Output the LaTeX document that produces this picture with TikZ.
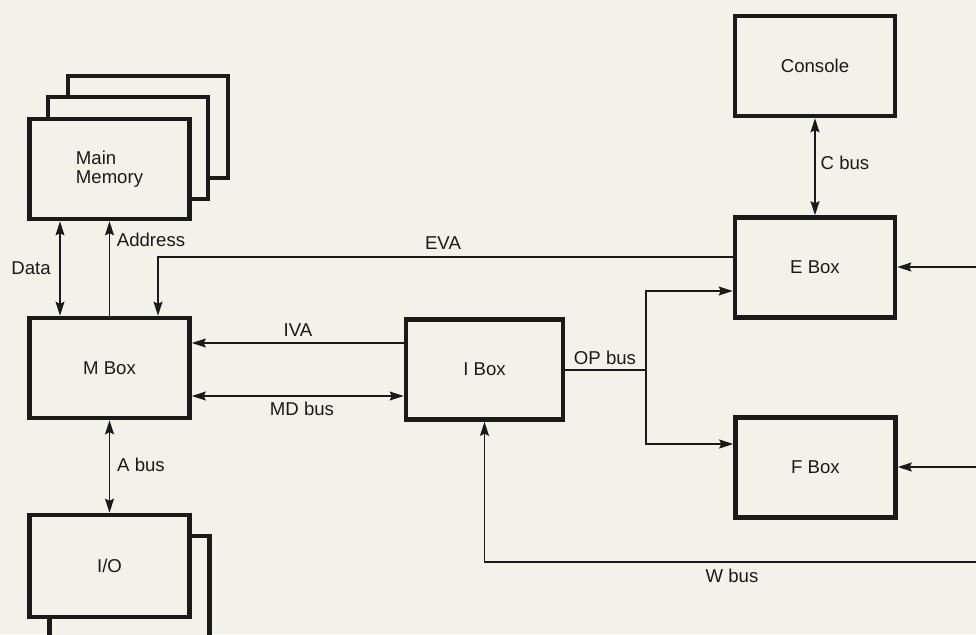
\documentclass[tikz,border=0pt]{standalone}
\usepackage{fontspec}
\setmainfont{Liberation Sans}
\usetikzlibrary{arrows.meta, positioning, calc}
\definecolor{paperBg}{HTML}{F2F2E8}
\definecolor{inkDark}{HTML}{1A1A1A}
\tikzset{
  unitBox/.style={rectangle, draw=inkDark, fill=paperBg, line width=2.2pt,
                  minimum width=80pt, minimum height=50pt, inner sep=0pt,
                  align=center, text=inkDark},
  busArrow/.style={-{Stealth[length=7pt, width=4.4pt, inset=1pt]}, inkDark, line width=0.9pt},
  busBoth/.style={{Stealth[length=7pt, width=4.4pt, inset=1pt]}-{Stealth[length=7pt, width=4.4pt, inset=1pt]},
                  inkDark, line width=0.9pt},
  busLabel/.style={inner sep=1pt, text=inkDark},
}

\begin{document}
\begin{tikzpicture}[x=0.5pt, y=-0.5pt, font=\fontsize{9.3}{9.3}\selectfont]
    \fill[paperBg] (0,0) rectangle (976,634);
    \clip (0,0) rectangle (976,634);

    % memory stack
    \node[unitBox, minimum height=51pt] (mem3) at (148,127) {};
    \node[unitBox, minimum height=51pt] (mem2) at (128,148) {};
    \node[unitBox, align=left] (mem) at (109.5,169) {Main\\Memory};
    \node[unitBox] (mbox) at (109.5,368) {M Box};
    \node[unitBox, minimum height=54pt] (io2) at (129.5,590) {};
    \node[unitBox, minimum height=51pt] (io) at (109.5,566) {I/O};
    \node[unitBox, minimum width=78.5pt] (ibox) at (484.5,369.5) {I Box};
    \node[unitBox] (console) at (815,66) {Console};
    \node[unitBox] (ebox) at (815,267.5) {E Box};
    \node[unitBox] (fbox) at (815.5,467.5) {F Box};

    \coordinate (dataX) at (60,0);
    \coordinate (eva) at (158,257);
    \coordinate (iva) at (0,343);
    \coordinate (mdBus) at (0,396);
    \coordinate (opJoint) at (646,370);
    \coordinate (opE) at (646,291);
    \coordinate (opF) at (646,444);
    \coordinate (eIn) at (980,267);
    \coordinate (fIn) at (980,467);
    \coordinate (wIn) at (980,562);

    \draw[busBoth] (mem.south -| dataX) -- (mbox.north -| dataX);
    \draw[busArrow] (mbox.north) -- (mem.south);
    \draw[busArrow] (ebox.west |- eva) -| (mbox.north -| eva);
    \draw[busArrow] (ibox.west |- iva) -- (mbox.east |- iva);
    \draw[busBoth] (mbox.east |- mdBus) -- (ibox.west |- mdBus);
    \draw[busBoth] (mbox.south) -- (io.north);
    \draw[busBoth] (console.south) -- (ebox.north);
    \draw[inkDark, line width=0.9pt] (ibox.east |- opJoint) -- (opJoint);
    \draw[busArrow] (opJoint) |- (opE -| ebox.west);
    \draw[busArrow] (opJoint) |- (opF -| fbox.west);
    \draw[busArrow] (eIn) -- (ebox.east |- eIn);
    \draw[busArrow] (fIn) -- (fbox.east |- fIn);
    \draw[busArrow] (wIn) -| (ibox.south);

    \node[busLabel] (dataLbl) at (31,268) {Data};
    \node[busLabel] (addrLbl) at (151,240) {Address};
    \node[busLabel] (evaLbl) at (443,243) {EVA};
    \node[busLabel] (ivaLbl) at (298,330) {IVA};
    \node[busLabel] (mdLbl) at (302,409) {MD bus};
    \node[busLabel] (opLbl) at (605,358) {OP bus};
    \node[busLabel] (aLbl) at (141,465) {A bus};
    \node[busLabel] (cLbl) at (845,163) {C bus};
    \node[busLabel] (wLbl) at (732,576) {W bus};
  \end{tikzpicture}
\end{document}
